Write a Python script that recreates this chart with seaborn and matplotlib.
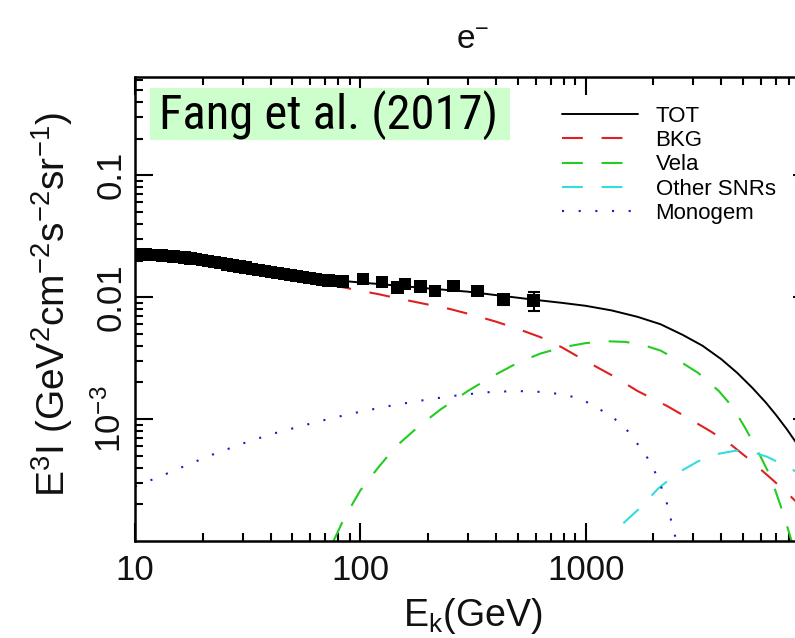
import matplotlib
matplotlib.use("Agg")
import matplotlib.pyplot as plt
from matplotlib.patches import Rectangle
from matplotlib.ticker import FixedLocator, FixedFormatter, NullFormatter
import seaborn as sns

# Measured electron spectrum, E^3 I in GeV^2 cm^-2 s^-1 sr^-1
data_energy = [10.0, 10.6, 11.2, 11.8, 12.5, 13.2, 14.0, 14.8, 15.7, 16.6,
               17.6, 18.6, 19.8, 21.1, 22.5, 24.0, 25.6, 27.3, 29.1, 31.0,
               33.1, 35.3, 37.7, 40.2, 42.9, 45.8, 48.9, 52.2, 55.7, 59.4,
               63.4, 67.7, 72.2, 77.0, 84.0, 103.0, 125.0, 146.0, 158.0,
               185.0, 215.0, 259.0, 331.0, 432.0, 587.0]
data_flux = [0.0226, 0.0225, 0.0224, 0.0222, 0.0221, 0.0219, 0.0217, 0.0215,
             0.0213, 0.0211, 0.0208, 0.0205, 0.0201, 0.0198, 0.0194, 0.0190,
             0.0186, 0.0182, 0.0178, 0.0175, 0.0171, 0.0167, 0.0164, 0.0161,
             0.0158, 0.0155, 0.0152, 0.0149, 0.0146, 0.0144, 0.0141, 0.0139,
             0.0137, 0.0136, 0.0135, 0.0141, 0.0133, 0.0120, 0.0128, 0.0122,
             0.0113, 0.0124, 0.0113, 0.0096, 0.0094]
data_err = [0.0003] * 34 + [0.0004, 0.0005, 0.0005, 0.0005, 0.0006, 0.0006,
                            0.0006, 0.0007, 0.0008, 0.0009, 0.0017]

# Model components
tot_energy = [10, 20, 30, 50, 80, 100, 150, 200, 300, 400, 500, 600, 780,
              1000, 1300, 1700, 2150, 2700, 3300, 4000, 4700, 5500, 6300,
              7000, 7800, 8600, 10000]
tot_flux = [0.0224, 0.0200, 0.0177, 0.0152, 0.0137, 0.0132, 0.0124, 0.0118,
            0.0111, 0.0104, 0.0099, 0.0095, 0.0090, 0.0085, 0.0078, 0.0069,
            0.0060, 0.0049, 0.0040, 0.0031, 0.0024, 0.0018, 0.00137,
            0.00108, 0.00083, 0.00064, 0.0004]

bkg_energy = [10, 20, 30, 50, 70, 85, 100, 120, 150, 200, 250, 320, 400, 500,
              630, 780, 1000, 1300, 1700, 2300, 2900, 3600, 4400, 5300, 6600,
              7800, 10000]
bkg_flux = [0.0220, 0.0194, 0.0170, 0.0143, 0.0128, 0.0120, 0.0113, 0.0106,
            0.0097, 0.0087, 0.0080, 0.0071, 0.0063, 0.0055, 0.0047, 0.0039,
            0.0030, 0.0023, 0.0017, 0.00128, 0.00100, 0.00079, 0.00062,
            0.00047, 0.00033, 0.00025, 0.00016]

vela_energy = [76, 85, 100, 120, 143, 180, 227, 300, 378, 500, 630, 800, 1000,
               1250, 1500, 1800, 2150, 2600, 3150, 3900, 4500, 5100, 5800,
               6500, 7000, 7600, 8200]
vela_flux = [1.0e-4, 1.55e-4, 2.6e-4, 4.0e-4, 5.9e-4, 8.6e-4, 1.2e-3, 1.7e-3,
             2.2e-3, 2.9e-3, 3.45e-3, 3.9e-3, 4.2e-3, 4.35e-3, 4.3e-3,
             4.05e-3, 3.65e-3, 3.0e-3, 2.4e-3, 1.7e-3, 1.25e-3, 8.5e-4,
             5.5e-4, 3.6e-4, 2.5e-4, 1.6e-4, 1.0e-4]

snr_energy = [1470, 1760, 2100, 2550, 3150, 3900, 4600, 5300, 6400, 7400,
              8400, 10000]
snr_flux = [1.4e-4, 1.9e-4, 2.7e-4, 3.6e-4, 4.5e-4, 5.2e-4, 5.5e-4, 5.5e-4,
            4.9e-4, 4.3e-4, 3.8e-4, 2.9e-4]

mono_energy = [10, 13, 17, 22, 30, 40, 55, 75, 100, 140, 200, 280, 380, 500,
               640, 780, 940, 1110, 1290, 1470, 1630, 1810, 1980, 2130, 2270,
               2370, 2460, 2530]
mono_flux = [2.8e-4, 3.4e-4, 4.2e-4, 5.1e-4, 6.3e-4, 7.5e-4, 8.8e-4, 1.02e-3,
             1.15e-3, 1.3e-3, 1.45e-3, 1.58e-3, 1.67e-3, 1.7e-3, 1.67e-3,
             1.6e-3, 1.48e-3, 1.26e-3, 1.06e-3, 8.9e-4, 6.9e-4, 5.4e-4,
             4.1e-4, 3.0e-4, 2.2e-4, 1.6e-4, 1.2e-4, 1.0e-4]

x_ticks = [10, 100, 1000]
x_tick_labels = ["10", "100", "1000"]
y_ticks = [1e-3, 1e-2, 1e-1]
y_tick_labels = [r"$\mathrm{10^{-3}}$", "0.01", "0.1"]

sns.set_theme(style="ticks")
plt.rcParams["font.family"] = ["Liberation Sans", "DejaVu Sans"]
plt.rcParams["mathtext.fontset"] = "custom"
plt.rcParams["mathtext.rm"] = "Liberation Sans"
plt.rcParams["mathtext.it"] = "Liberation Sans:italic"
plt.rcParams["mathtext.bf"] = "Liberation Sans:bold"

fig = plt.figure(figsize=(7.95, 6.38), dpi=100)
ax = fig.add_axes([0.1698, 0.152, 0.8503, 0.7273])
ax.set_xscale("log")
ax.set_yscale("log")

lw = 1.5
sns.lineplot(x=tot_energy, y=tot_flux, color="black", lw=1.4, ax=ax,
             label="TOT")
sns.lineplot(x=bkg_energy, y=bkg_flux, color="#e02020", lw=lw, ax=ax,
             linestyle=(0, (10, 9)), label="BKG")
sns.lineplot(x=vela_energy, y=vela_flux, color="#22cc22", lw=lw, ax=ax,
             linestyle=(0, (10, 9)), label="Vela")
sns.lineplot(x=snr_energy, y=snr_flux, color="#33dddd", lw=lw, ax=ax,
             linestyle=(0, (10, 9)), label="Other SNRs")
sns.lineplot(x=mono_energy, y=mono_flux, color="#1a1acc", lw=lw, ax=ax,
             linestyle=(0, (1, 7)), label="Monogem")

ax.errorbar(data_energy, data_flux, yerr=data_err, fmt="none",
            ecolor="black", elinewidth=1.5, capsize=4, capthick=1.5, zorder=4)
sns.scatterplot(x=data_energy, y=data_flux, marker="s", s=80, color="black",
                edgecolor="none", ax=ax, zorder=5, legend=False)

ax.set_xlim(10, 10000)
ax.set_ylim(1e-4, 0.64)

ax.xaxis.set_major_locator(FixedLocator(x_ticks))
ax.xaxis.set_major_formatter(FixedFormatter(x_tick_labels))
ax.yaxis.set_major_locator(FixedLocator(y_ticks))
ax.yaxis.set_major_formatter(FixedFormatter(y_tick_labels))
ax.xaxis.set_minor_formatter(NullFormatter())
ax.yaxis.set_minor_formatter(NullFormatter())

ax.tick_params(which="both", direction="in", top=True, right=True,
               color="black", width=1.5)
ax.tick_params(which="major", length=13)
ax.tick_params(which="minor", length=5.5)
ax.tick_params(axis="x", which="major", labelsize=25, pad=9,
               labelcolor="#111111")
ax.tick_params(axis="y", which="major", labelsize=25, pad=5,
               labelcolor="#111111")
for lab in ax.get_yticklabels():
    lab.set_rotation(90)
    lab.set_va("center")

for sp in ax.spines.values():
    sp.set_linewidth(1.8)
    sp.set_color("black")

ax.set_xlabel(r"$\mathrm{E_k(GeV)}$", fontsize=27, labelpad=7,
              color="#111111")
ax.set_ylabel(r"$\mathrm{E^3I\ (GeV^2cm^{-2}s^{-2}sr^{-1})}$", fontsize=28,
              color="#111111")
ax.yaxis.set_label_coords(-0.089, 0.51)

fig.text(0.595, 0.937, r"$\mathrm{e^{-}}$", fontsize=24, ha="center",
         va="center", color="#111111")

# citation tag in the upper-left corner
ax.add_patch(Rectangle((0.0222, 0.864), 0.5325, 0.112, transform=ax.transAxes,
                       facecolor="#ccffcc", edgecolor="none", zorder=6))
ax.text(0.286, 0.918, "Fang et al. (2017)", transform=ax.transAxes,
        ha="center", va="center", fontsize=35, color="black", zorder=7,
        family=["Roboto Condensed", "Roboto", "DejaVu Sans"])

handles, labels = ax.get_legend_handles_labels()
ax.legend(handles, labels, loc="upper left", bbox_to_anchor=(0.632, 0.938),
          frameon=False, borderpad=0, borderaxespad=0, fontsize=16,
          handlelength=3.4, handletextpad=0.8, labelspacing=0.15,
          labelcolor="black")

fig.savefig("out.png", dpi=100)
